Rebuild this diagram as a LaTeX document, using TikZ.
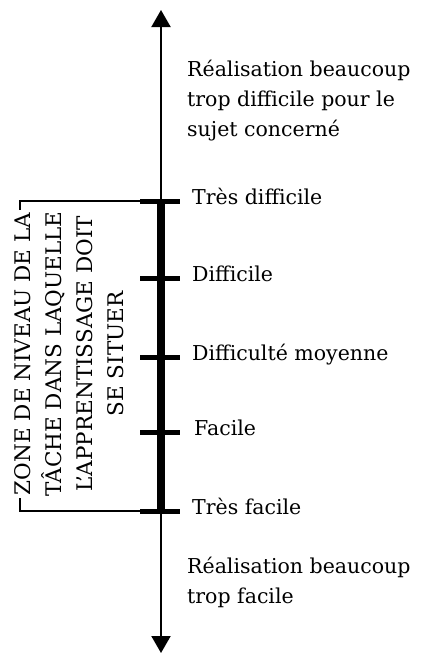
\documentclass[tikz,border=0pt]{standalone}
\usepackage{fontspec}
\setmainfont{DejaVu Serif}
\usepackage{tikz}
\usetikzlibrary{arrows.meta,positioning}

\begin{document}
\begin{tikzpicture}[
  x=1pt, y=-1pt,
  axis/.style={line width=2pt,
               {Triangle[length=17pt,width=19pt]}-{Triangle[length=17pt,width=19pt]}},
  bar/.style={line width=8pt},
  tickmark/.style={line width=5pt},
  brace/.style={line width=1.2pt},
  lbl/.style={font=\fontsize{20.5}{30}\selectfont, inner sep=0pt,
              text height=1.5ex, text depth=0pt},
  txt/.style={font=\fontsize{20.5}{30}\selectfont, inner sep=0pt,
              align=left, anchor=north west},
  zone/.style={font=\fontsize{21.5}{31}\selectfont, align=center,
               rotate=90, fill=white, inner sep=1pt}]
\useasboundingbox (0,0) rectangle (422,659);
% main axis
\coordinate (top) at (161,10);
\coordinate (bot) at (161,653);
\draw[axis] (bot) -- (top);
% levels
\coordinate (t1) at (161,201);
\coordinate (t2) at (161,278);
\coordinate (t3) at (161,357);
\coordinate (t4) at (161,432);
\coordinate (t5) at (161,511);
\draw[bar] (t1) -- (t5);
\foreach \n in {1,...,5}
  \draw[tickmark] ([xshift=-21pt]t\n) -- ([xshift=19pt]t\n);
\node[lbl, right=31pt of t1] (l1) {Très difficile};
\node[lbl, right=31pt of t2] (l2) {Difficile};
\node[lbl, right=31pt of t3] (l3) {Difficulté moyenne};
\node[lbl, right=33pt of t4] (l4) {Facile};
\node[lbl, right=31pt of t5] (l5) {Très facile};
% outside the zone
\node[txt] (hard) at (187,60) {Réalisation beaucoup\\ trop difficile pour le\\ sujet concerné};
\node[txt] (easy) at (187,557) {Réalisation beaucoup\\ trop facile};
% bracket and zone
\coordinate (c1) at (20,201);
\coordinate (c2) at (20,511);
\draw[brace] ([xshift=-21pt]t1) -- (c1) -- (c2) -- ([xshift=-21pt]t5);
\node[zone] (zone) at (69,354) {ZONE DE NIVEAU DE LA\\ TÂCHE DANS LAQUELLE\\
  L'APPRENTISSAGE DOIT\\ SE SITUER};
\end{tikzpicture}
\end{document}
